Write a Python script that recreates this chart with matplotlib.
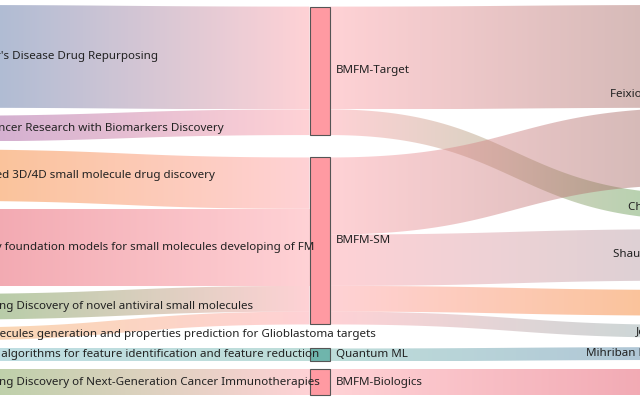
import numpy as np
import matplotlib
matplotlib.use("Agg")
import matplotlib.pyplot as plt
from matplotlib.patches import Polygon, Rectangle
from matplotlib.colors import to_rgb

# ---------------- data ----------------
projects = [
    "Alzheimer's Disease Drug Repurposing",
    "Breast Cancer Research with Biomarkers Discovery",
    "AI-powered 3D/4D small molecule drug discovery",
    "Chemistry foundation models for small molecules developing of FM",
    "Accelerating Discovery of novel antiviral small molecules",
    "Small molecules generation and properties prediction for Glioblastoma targets",
    "Quantum algorithms for feature identification and feature reduction",
    "Accelerating Discovery of Next-Generation Cancer Immunotherapies",
]
models = ["BMFM-Target", "BMFM-SM", "Quantum ML", "BMFM-Biologics"]
people = ["Feixiong Cheng", "Chen Zhang", "Shaun Stauffer", "Jae Jung",
          "Josh Rubin", "Mihriban Karaayvaz", "Tim Chan"]

project_to_model = [0, 0, 1, 1, 1, 1, 2, 3]
project_values = [4, 1, 2, 3, 1, 0.5, 0.5, 1]

mp_source = [0, 0, 1, 1, 1, 1, 2, 3]
mp_target = [0, 1, 0, 2, 3, 4, 5, 6]
mp_values = [4, 1, 3, 2, 1, 0.5, 0.5, 1]

project_colors = ['#2d619e', '#8d4195', '#f47408', '#df3145',
                  '#438c2b', '#f2a84a', '#6fb6c3', '#549630']
model_colors = ['#ff9aa2', '#ff9aa2', '#6fb5ac', '#ff9aa2']
people_colors = ['#935c55', '#439b3f', '#a897a0', '#f47408',
                 '#7ba8a7', '#4977a3', '#dd314a']

# ---------------- style / layout params ----------------
W, H = 640, 400
TOP, BOT = 5, 395
PAD = 8
NODE_W = 20
COL_X = [-80.5, 309.5, 700]
LINK_ALPHA = 0.45
FS = 8.35
FONT = ['Noto Sans', 'DejaVu Sans']
TXT = '#222222'

# links list: (col, src, tgt, value)
links = [(0, p, m, v) for p, (m, v) in enumerate(zip(project_to_model, project_values))]
links += [(1, s, t, v) for s, t, v in zip(mp_source, mp_target, mp_values)]

n_per_col = [len(projects), len(models), len(people)]
node_val = []
for c in range(3):
    vin = np.zeros(n_per_col[c]); vout = np.zeros(n_per_col[c])
    for lc, s, t, v in links:
        if lc == c:
            vout[s] += v
        if lc + 1 == c:
            vin[t] += v
    node_val.append(np.maximum(vin, vout))

Hav = BOT - TOP
k = min((Hav - (n_per_col[c] - 1) * PAD) / node_val[c].sum() for c in range(3))

node_y0 = [None, None, None]
for c in (0, 2):
    hs = node_val[c] * k
    gap = (Hav - hs.sum()) / (len(hs) - 1)
    node_y0[c] = TOP + np.concatenate([[0], np.cumsum(hs[:-1] + gap)])

# middle column: centre on weighted incoming centres
hs1 = node_val[1] * k
centers = np.zeros(n_per_col[1])
for m in range(n_per_col[1]):
    num = den = 0
    for lc, s, t, v in links:
        if lc == 0 and t == m:
            cy = node_y0[0][s] + node_val[0][s] * k / 2
            num += cy * v; den += v
    centers[m] = num / den
y1 = centers - hs1 / 2
for i in range(1, len(y1)):
    y1[i] = max(y1[i], y1[i - 1] + hs1[i - 1] + PAD)
node_y0[1] = y1

# ---------------- draw ----------------
fig = plt.figure(figsize=(W / 100, H / 100), dpi=100)
ax = fig.add_axes([0, 0, 1, 1])
ax.set_axis_off()

def draw_link(x0, x1, y0t, y0b, y1t, y1b, c0, c1):
    t = np.linspace(0, 1, 120)
    xm = (x0 + x1) / 2
    bx = (1 - t) ** 3 * x0 + 3 * (1 - t) ** 2 * t * xm + 3 * (1 - t) * t ** 2 * xm + t ** 3 * x1
    s = 3 * t ** 2 - 2 * t ** 3
    yt = y0t + (y1t - y0t) * s
    yb = y0b + (y1b - y0b) * s
    verts = np.column_stack([np.r_[bx, bx[::-1]], np.r_[yt, yb[::-1]]])
    poly = Polygon(verts, closed=True, facecolor='none', edgecolor='none')
    ax.add_patch(poly)
    n = 256
    g = np.linspace(0, 1, n)
    rgb = (1 - g)[:, None] * np.array(to_rgb(c0)) + g[:, None] * np.array(to_rgb(c1))
    img = np.zeros((1, n, 4))
    img[0, :, :3] = rgb
    img[0, :, 3] = LINK_ALPHA
    ymin = min(yt.min(), yb.min()); ymax = max(yt.max(), yb.max())
    im = ax.imshow(img, extent=(x0, x1, ymax, ymin), aspect='auto',
                   interpolation='bilinear', zorder=1)
    im.set_clip_path(poly)

col_colors = [project_colors, model_colors, people_colors]
out_off = [np.zeros(n) for n in n_per_col]
in_off = [np.zeros(n) for n in n_per_col]
for c in (0, 1):
    cl = [l for l in links if l[0] == c]
    order = sorted(range(len(cl)), key=lambda i: (node_y0[c][cl[i][1]], node_y0[c + 1][cl[i][2]]))
    for i in order:
        _, s, t, v = cl[i]
        h = v * k
        y0t = node_y0[c][s] + out_off[c][s]
        y1t = node_y0[c + 1][t] + in_off[c + 1][t]
        out_off[c][s] += h
        in_off[c + 1][t] += h
        draw_link(COL_X[c] + NODE_W, COL_X[c + 1], y0t, y0t + h, y1t, y1t + h,
                  col_colors[c][s], col_colors[c + 1][t])

names = [projects, models, people]
for c in range(3):
    for i, name in enumerate(names[c]):
        y0 = node_y0[c][i]; h = node_val[c][i] * k
        ax.add_patch(Rectangle((COL_X[c], y0), NODE_W, h, facecolor=col_colors[c][i],
                               edgecolor='#555555', linewidth=0.8, zorder=3))
        if c < 2:
            ax.text(COL_X[c] + NODE_W + 6, y0 + h / 2, name, ha='left', va='center',
                    fontsize=FS, family=FONT, color=TXT, zorder=4)
        else:
            ax.text(COL_X[c] - 6, y0 + h / 2, name, ha='right', va='center',
                    fontsize=FS, family=FONT, color=TXT, zorder=4)

ax.set_xlim(0, W)
ax.set_ylim(H, 0)
fig.savefig('out.png', dpi=100)
